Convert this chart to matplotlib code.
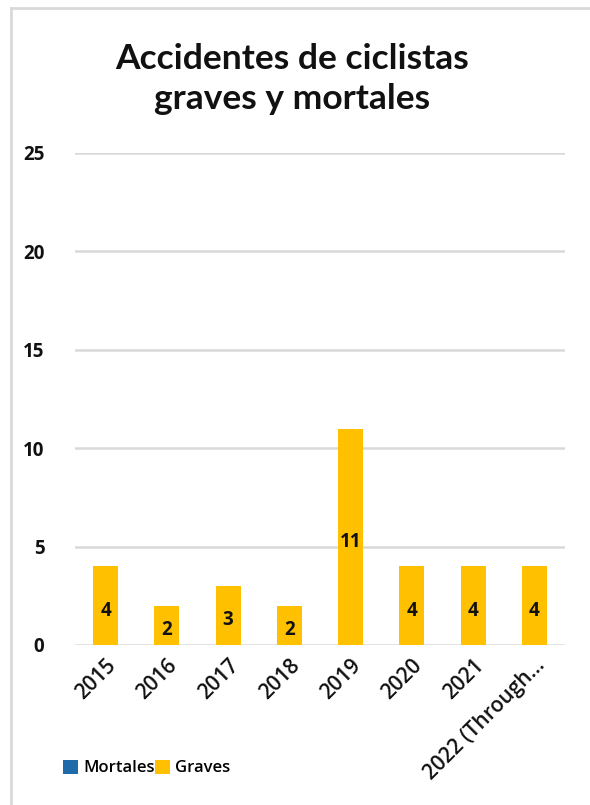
import matplotlib
matplotlib.use("Agg")
import matplotlib.pyplot as plt
from matplotlib.lines import Line2D
from matplotlib.patches import Patch

categories = ["2015", "2016", "2017", "2018", "2019", "2020", "2021", "2022 (Through…"]
mortales = [0, 0, 0, 0, 0, 0, 0, 0]
graves = [4, 2, 3, 2, 11, 4, 4, 4]
yticks = [0, 5, 10, 15, 20, 25]

BLUE = "#1F6BAA"
YELLOW = "#FFC000"
GRID = "#D9D9D9"
TXT = "#111111"

W, H = 590, 805
fig = plt.figure(figsize=(W / 100, H / 100), dpi=100)
ax = fig.add_axes([75 / W, 1 - 645 / H, 490 / W, (645 - 153) / H])

x = list(range(len(categories)))
ax.bar(x, mortales, width=0.41, color=BLUE, zorder=2)
ax.bar(x, graves, width=0.41, bottom=mortales, color=YELLOW, zorder=2)

for xi, m, g in zip(x, mortales, graves):
    ax.text(xi, m + g / 2 - 0.25, str(g), ha="center", va="center",
            fontsize=13.5, fontweight="bold", family="Open Sans", color=TXT,
            bbox=dict(facecolor=YELLOW, edgecolor="none", pad=1.5), zorder=3)

ax.set_xlim(-0.5, len(categories) - 0.5)
ax.set_ylim(0, 25)
ax.set_yticks(yticks)
ax.set_yticklabels([str(v) for v in yticks], fontsize=13.5, fontweight="bold",
                   family="Open Sans", color=TXT)
ax.tick_params(axis="y", length=0, pad=22)
ax.set_xticks(x)
ax.set_xticklabels(categories, rotation=45, ha="right", rotation_mode="anchor",
                   fontsize=15, fontweight="semibold", family="Open Sans", color=TXT)
ax.tick_params(axis="x", length=0, pad=7)
ax.grid(axis="y", color=GRID, linewidth=1.8, zorder=0)
for s in ax.spines.values():
    s.set_visible(False)

fig.text(292 / W, 1 - 79 / H, "Accidentes de ciclistas\ngraves y mortales",
         ha="center", va="center", fontsize=25.5, fontweight="bold",
         family="Lato", color=TXT, linespacing=1.32)

handles = [Patch(facecolor=BLUE, edgecolor="none"), Patch(facecolor=YELLOW, edgecolor="none")]
fig.legend(handles, ["Mortales", "Graves"], loc="center left",
           bbox_to_anchor=(48 / W, 1 - 768 / H), ncol=2, frameon=False,
           prop=dict(family="Open Sans", weight="semibold", size=12),
           handlelength=0.9, handleheight=0.9, handletextpad=0.3, columnspacing=0.0)

# chart area border (left and top edges visible)
fig.add_artist(Line2D([11 / W, 11 / W], [0, 1 - 8 / H], color=GRID, linewidth=2,
                      transform=fig.transFigure))
fig.add_artist(Line2D([11 / W, 1], [1 - 8 / H, 1 - 8 / H], color=GRID, linewidth=2,
                      transform=fig.transFigure))

fig.savefig("out.png", dpi=100, facecolor="white")
